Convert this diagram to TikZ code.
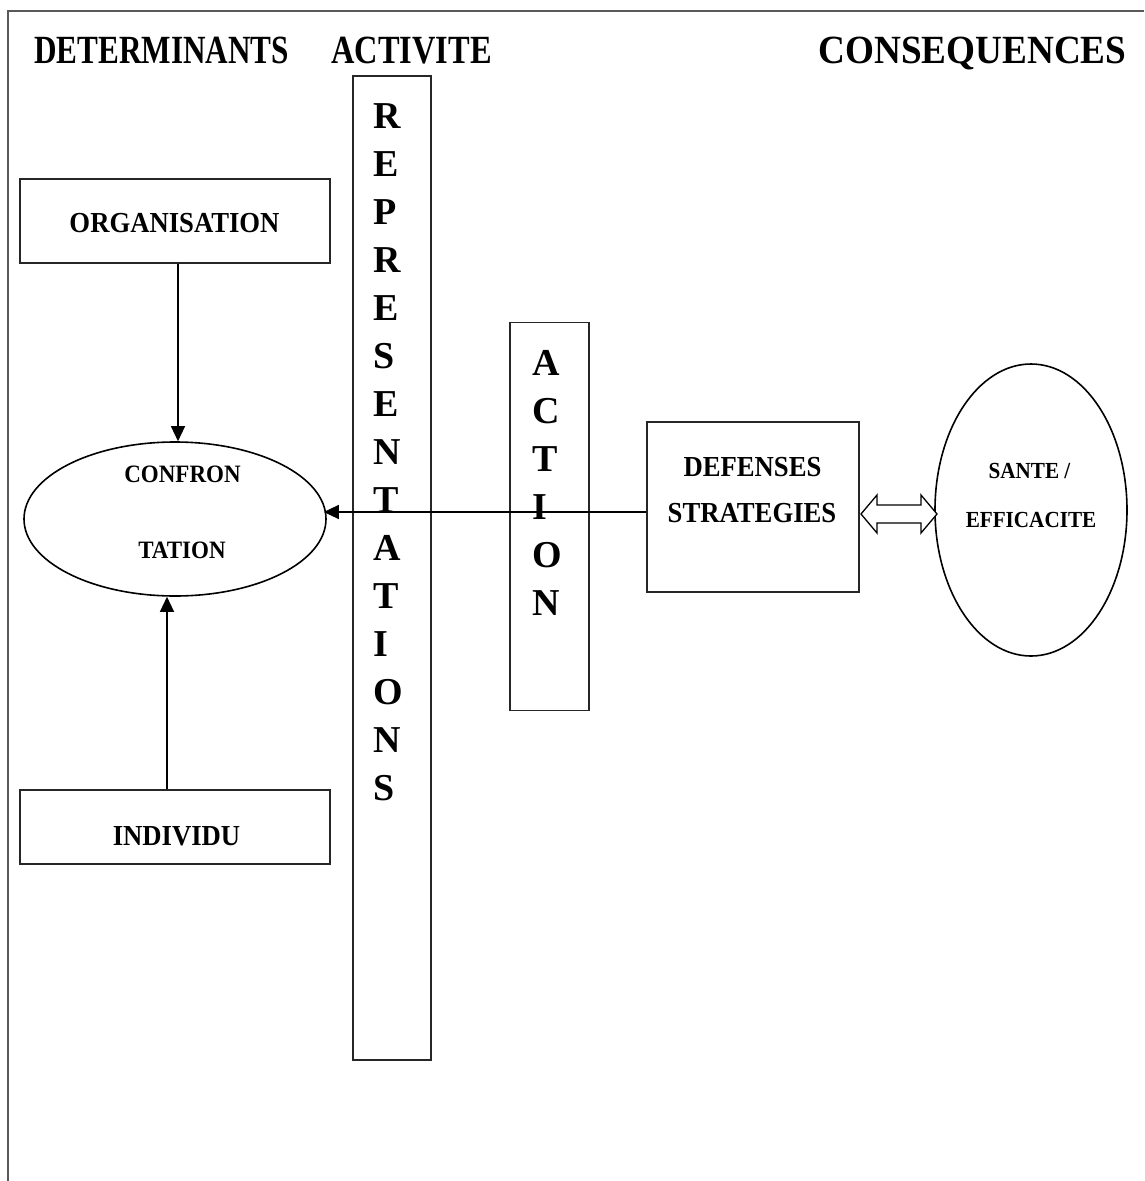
\documentclass[tikz,border=0pt]{standalone}
\usepackage{fontspec}
\setmainfont{Liberation Serif}
\usetikzlibrary{arrows.meta,shapes.geometric}
\newcommand{\hsq}[2][0.92]{\scalebox{#1}[1]{#2}}
\begin{document}
\begin{tikzpicture}[x=1pt,y=-1pt,
  frame/.style={draw=black!65, line width=2pt},
  box/.style={draw=black!85, line width=1.3pt, rectangle, inner sep=0pt},
  oval/.style={draw=black, line width=1.6pt, ellipse, inner sep=0pt},
  ttl/.style={font=\fontsize{40}{40}\selectfont\bfseries, inner sep=0pt, anchor=base},
  col/.style={font=\fontsize{38}{38}\selectfont\bfseries, inner sep=0pt, anchor=base west},
  lbl/.style={font=\fontsize{29}{29}\selectfont\bfseries, inner sep=0pt},
  clbl/.style={font=\fontsize{25}{25}\selectfont\bfseries, inner sep=0pt},
  slbl/.style={font=\fontsize{23}{23}\selectfont\bfseries, inner sep=0pt},
  arr/.style={-{Triangle[length=15pt,width=14pt]}, line width=1.3pt},
  dbl/.style={draw=black, line width=1.3pt, fill=white}
]
\useasboundingbox (0,0) rectangle (1144,1181);
\draw[frame] (8,1181) -- (8,11) -- (1144,11);

% titles
\node[ttl] (t1) at (161.5,63) {\hsq[0.78]{DETERMINANTS}};
\node[ttl] (t2) at (411.7,63) {\hsq[0.81]{ACTIVITE}};
\node[ttl] (t3) at (972.5,63) {\hsq[0.93]{CONSEQUENCES}};

% boxes
\node[box, minimum width=310pt, minimum height=84pt] (org) at (175,221) {};
\node[box, minimum width=310pt, minimum height=74pt] (ind) at (175,827) {};
\node[oval, minimum width=302pt, minimum height=154pt] (conf) at (175,519) {};
\node[box, minimum width=78pt, minimum height=984pt] (rep) at (392,568) {};
\node[box, minimum width=79pt, minimum height=388pt] (act) at (549.5,516.5) {};
\node[box, minimum width=212pt, minimum height=170pt] (def) at (753,507) {};
\node[oval, minimum width=192pt, minimum height=292pt] (sante) at (1031,510) {};

% labels
\node[lbl] (torg) at (174.5,223) {\hsq{ORGANISATION}};
\node[lbl] (tind) at (176.5,836) {\hsq{INDIVIDU}};
\node[clbl] (tconf1) at (182.5,474) {\hsq{CONFRON}};
\node[clbl] (tconf2) at (182,550) {\hsq{TATION}};
\node[lbl] (tdef1) at (752.5,467.5) {\hsq{DEFENSES}};
\node[lbl] (tdef2) at (752,513.5) {\hsq{STRATEGIES}};
\node[slbl] (ts1) at (1029.5,470.5) {\hsq{SANTE /}};
\node[slbl] (ts2) at (1031,519.5) {\hsq{EFFICACITE}};

% vertical letters
\foreach \l [count=\i from 0] in {R,E,P,R,E,S,E,N,T,A,T,I,O,N,S}
  \node[col] (r\i) at (373,{128+48*\i}) {\l};
\foreach \l [count=\i from 0] in {A,C,T,I,O,N}
  \node[col] (a\i) at (532,{375+48*\i}) {\l};

% connectors
\draw[arr] ([xshift=3pt]org.south) -- ([xshift=3pt]conf.north);
\draw[arr] ([xshift=-8pt]ind.north) -- ([xshift=-8pt]conf.south);
\coordinate (hy) at (0,512);
\draw[arr, shorten >=-3pt] (def.west |- hy) -- (conf.east |- hy);

% double arrow
\coordinate (da) at (899,514);
\draw[dbl, shift={(da)}] (-38,0) -- (-22,-19) -- (-22,-9) -- (22,-9) -- (22,-19)
  -- (38,0) -- (22,19) -- (22,9) -- (-22,9) -- (-22,19) -- cycle;
\end{tikzpicture}
\end{document}
